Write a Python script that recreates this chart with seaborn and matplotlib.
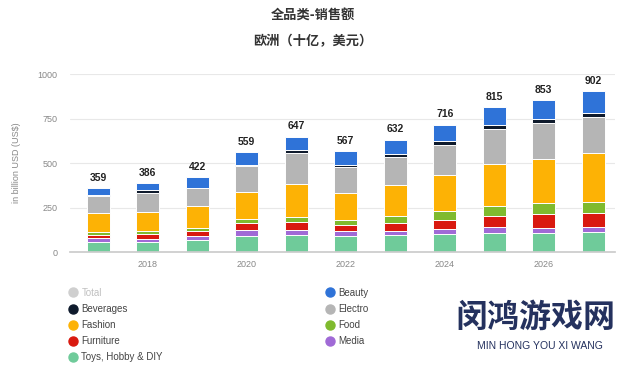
import numpy as np
import pandas as pd
import matplotlib
matplotlib.use("Agg")
import matplotlib.pyplot as plt
import seaborn as sns
from matplotlib.lines import Line2D

# ---- data ----
years = list(range(2017, 2028))
totals = [359, 386, 422, 559, 647, 567, 632, 716, 815, 853, 902]
toys = [55, 55, 66, 91, 93, 92, 93, 99, 107, 108, 114]
media = [22, 20, 26, 34, 29, 27, 23, 30, 32, 28, 28]
furniture = [21, 26, 28, 36, 48, 32, 49, 50, 65, 75, 75]
food = [14, 16, 15, 25, 27, 28, 40, 50, 57, 67, 66]
fashion = [107, 105, 122, 150, 185, 155, 172, 205, 235, 247, 275]
electronics = [95, 112, 100, 145, 175, 145, 155, 166, 196, 197, 200]
beverages = [9, 14, 5, 8, 18, 8, 20, 26, 20, 26, 24]
beauty = [36, 38, 60, 70, 72, 80, 80, 90, 103, 105, 120]
tick_years = [2018, 2020, 2022, 2024, 2026]
y_ticks = [0, 250, 500, 750, 1000]

series = {
    "Toys, Hobby & DIY": toys,
    "Media": media,
    "Furniture": furniture,
    "Food": food,
    "Fashion": fashion,
    "Electronics": electronics,
    "Beverages": beverages,
    "Beauty": beauty,
}
colors = {
    "Toys, Hobby & DIY": "#6fcb9a",
    "Media": "#a06ad6",
    "Furniture": "#d9190f",
    "Food": "#7fba2e",
    "Fashion": "#fdb205",
    "Electronics": "#b5b5b5",
    "Beverages": "#0e1a2c",
    "Beauty": "#2f73d8",
}

rows = []
for cat, vals in series.items():
    for y, v in zip(years, vals):
        rows.append({"year": y, "category": cat, "value": v})
df = pd.DataFrame(rows)

sns.set_theme(style="white")
plt.rcParams["font.family"] = ["Liberation Sans", "Noto Sans CJK SC", "DejaVu Sans"]

fig = plt.figure(figsize=(6.26, 3.67), dpi=100)
ax = fig.add_axes([70 / 626, 1 - 252 / 367, 545 / 626, 178 / 367])

hue_order = list(series.keys())[::-1]  # top to bottom
sns.histplot(data=df, x="year", weights="value", hue="category",
             hue_order=hue_order, multiple="stack", discrete=True,
             shrink=0.47, palette=colors, edgecolor="white", linewidth=0.7,
             alpha=1, legend=False, ax=ax)

for y, t in zip(years, totals):
    ax.text(y, t + 30, str(t), ha="center", va="bottom", fontsize=7.5,
            fontweight="bold", color="#222222")

ax.set_ylim(0, 1000)
ax.set_xlim(2016.43, 2027.44)
ax.set_yticks(y_ticks)
ax.set_yticklabels([str(v) for v in y_ticks], fontsize=6.5, color="#888888")
ax.set_xticks(tick_years)
ax.set_xticklabels([str(v) for v in tick_years], fontsize=6.5, color="#888888")
ax.tick_params(axis="both", length=0, pad=6)
ax.tick_params(axis="y", pad=9)
ax.yaxis.grid(True, color="#e8e8e8", linewidth=0.8)
ax.set_axisbelow(True)
for s in ["top", "right", "left"]:
    ax.spines[s].set_visible(False)
ax.spines["bottom"].set_color("#cccccc")
ax.set_xlabel("")
ax.set_ylabel("in billion USD (US$)", fontsize=6.5, color="#888888", labelpad=12)

# titles
fig.text(0.5, 1 - 16 / 367, "全品类-销售额", ha="center", va="center",
         fontsize=9.5, fontweight="bold", color="#333333",
         family=["Noto Sans CJK SC", "DejaVu Sans"])
fig.text(0.5, 1 - 41 / 367, "欧洲（十亿，美元）", ha="center", va="center",
         fontsize=9.5, fontweight="bold", color="#333333",
         family=["Noto Sans CJK SC", "DejaVu Sans"])

# legends
def handle(c):
    return Line2D([], [], marker="o", linestyle="", markersize=6.5,
                  markerfacecolor=c, markeredgecolor=c)

left_labels = ["Total", "Beverages", "Fashion", "Furniture", "Toys, Hobby & DIY"]
left_colors = ["#cfcfcf", colors["Beverages"], colors["Fashion"],
               colors["Furniture"], colors["Toys, Hobby & DIY"]]
right_labels = ["Beauty", "Electro", "Food", "Media"]
right_colors = [colors["Beauty"], colors["Electronics"], colors["Food"], colors["Media"]]

leg1 = fig.legend([handle(c) for c in left_colors], left_labels,
                  loc="upper left", bbox_to_anchor=(63 / 626, 1 - 284 / 367),
                  frameon=False, fontsize=7, handletextpad=0.3,
                  labelspacing=0.62, borderaxespad=0, handlelength=1.2)
for t in leg1.get_texts():
    t.set_color("#444444")
leg1.get_texts()[0].set_color("#c0c0c0")
leg2 = fig.legend([handle(c) for c in right_colors], right_labels,
                  loc="upper left", bbox_to_anchor=(320 / 626, 1 - 284 / 367),
                  frameon=False, fontsize=7, handletextpad=0.3,
                  labelspacing=0.62, borderaxespad=0, handlelength=1.2)
for t in leg2.get_texts():
    t.set_color("#444444")

# watermark text
fig.text(535 / 626, 1 - 318 / 367, "闵鸿游戏网", ha="center", va="center",
         fontsize=23, fontweight="bold", color="#24315e",
         family=["Noto Sans CJK SC", "DejaVu Sans"])
fig.text(540 / 626, 1 - 346 / 367, "MIN HONG YOU XI WANG", ha="center",
         va="center", fontsize=7.5, color="#24315e")

fig.savefig("out.png", dpi=100)
